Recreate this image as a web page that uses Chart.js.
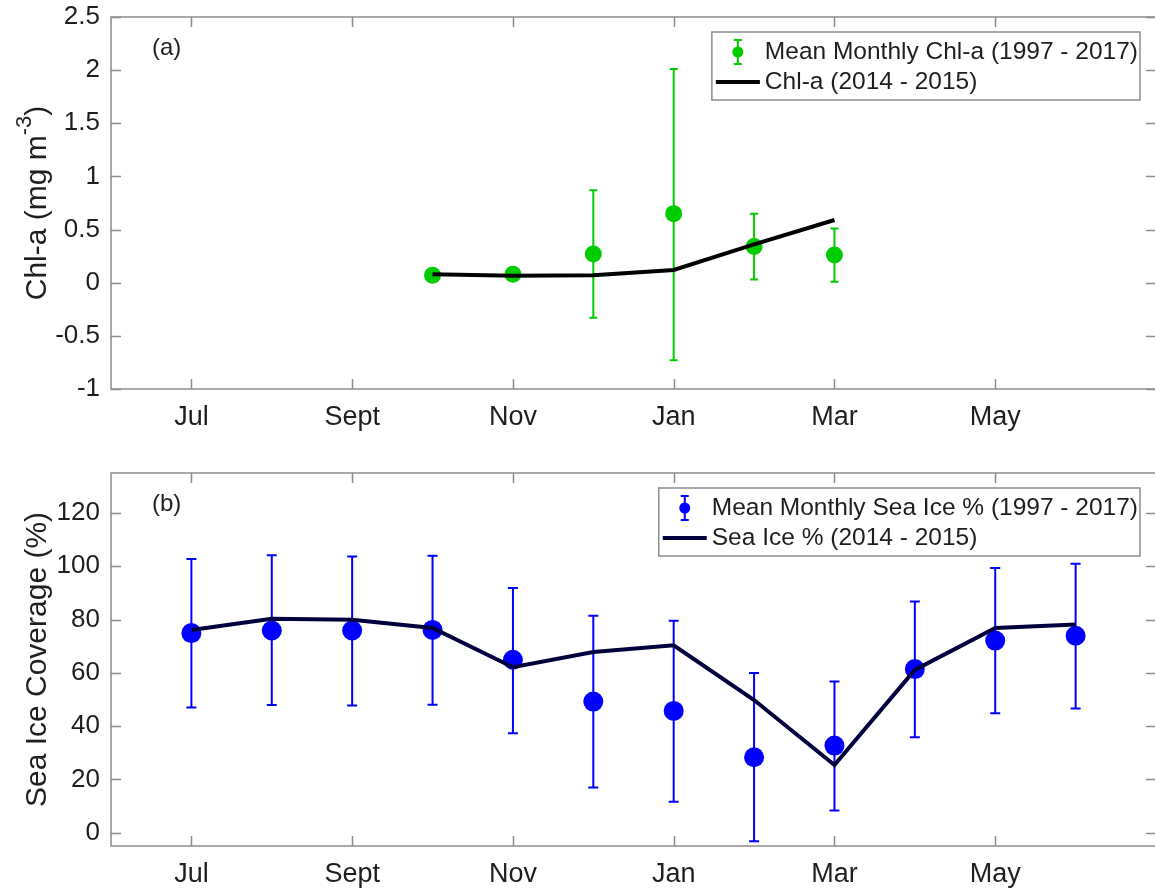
<!DOCTYPE html>
<html>
<head>
<meta charset="utf-8">
<script src="https://cdn.jsdelivr.net/npm/chart.js@4.4.0/dist/chart.umd.min.js"></script>
<style>
  html, body { margin: 0; padding: 0; background: #fff; overflow: hidden; }
  #wrap { position: relative; width: 1155px; height: 890px; overflow: hidden; }
  canvas { position: absolute; left: 0; }
</style>
</head>
<body>
<div id="wrap">
  <canvas id="chlChart" width="1157" height="445" style="top:0px"></canvas>
  <canvas id="iceChart" width="1157" height="445" style="top:445px"></canvas>
</div>
<script>
// months along x (Jun = 0 ... Jul next year = 13)
const months = ['Jul', 'Aug', 'Sep', 'Oct', 'Nov', 'Dec', 'Jan', 'Feb', 'Mar', 'Apr', 'May', 'Jun'];
const monthPos = [1, 2, 3, 4, 5, 6, 7, 8, 9, 10, 11, 12];
const xTickPos = [1, 3, 5, 7, 9, 11];
const xTickLabels = ['Jul', 'Sept', 'Nov', 'Jan', 'Mar', 'May'];

// panel (a) chlorophyll
const chlMean = [null, null, null, 0.07, 0.08, 0.27, 0.65, 0.34, 0.26, null, null, null];
const chlLow  = [null, null, null, 0.05, 0.06, -0.33, -0.73, 0.03, 0.01, null, null, null];
const chlHigh = [null, null, null, 0.09, 0.10, 0.87, 2.01, 0.65, 0.51, null, null, null];
const chl1415 = [null, null, null, 0.08, 0.065, 0.07, 0.12, 0.36, 0.59, null, null, null];
const chlTicks = [-1, -0.5, 0, 0.5, 1, 1.5, 2, 2.5];

// panel (b) sea ice
const iceMean = [74.9, 75.9, 75.9, 76.1, 64.9, 49.2, 45.7, 28.3, 32.7, 61.4, 72.1, 73.9];
const iceLow  = [47.0, 47.9, 47.7, 48.0, 37.3, 17.0, 11.6, -3.2, 8.3, 35.8, 44.8, 46.6];
const iceHigh = [102.7, 104.1, 103.7, 103.9, 91.8, 81.4, 79.5, 59.9, 56.7, 86.8, 99.3, 100.9];
const ice1415 = [76.1, 80.3, 79.9, 76.8, 62.1, 67.8, 70.3, 49.8, 25.4, 61.1, 76.8, 78.1];
const iceTicks = [0, 20, 40, 60, 80, 100, 120];

const FONT = "'Liberation Sans', Arial, Helvetica, sans-serif";
const GREY = '#8c8c8c';
const TXT = '#1e1e1e';

Chart.defaults.font.family = FONT;

function points(vals, lows, highs) {
  const out = [];
  vals.forEach((v, i) => {
    if (v === null) return;
    out.push({ x: monthPos[i], y: v, lo: lows ? lows[i] : v, hi: highs ? highs[i] : v });
  });
  return out;
}

// error bars, drawn under the markers
const errorBars = {
  id: 'errorBars',
  beforeDatasetsDraw(chart) {
    const { ctx, scales: { x, y } } = chart;
    chart.data.datasets.forEach(ds => {
      if (!ds.errColor) return;
      ctx.save();
      ctx.strokeStyle = ds.errColor;
      ctx.lineWidth = 2;
      ds.data.forEach(p => {
        const px = x.getPixelForValue(p.x);
        const lo = y.getPixelForValue(p.lo);
        const hi = y.getPixelForValue(p.hi);
        ctx.beginPath();
        ctx.moveTo(px, lo); ctx.lineTo(px, hi);
        ctx.moveTo(px - ds.capHalf, lo); ctx.lineTo(px + ds.capHalf, lo);
        ctx.moveTo(px - ds.capHalf, hi); ctx.lineTo(px + ds.capHalf, hi);
        ctx.stroke();
      });
      ctx.restore();
    });
  }
};

// matlab-like box, inward ticks, panel letter, y title and legend
const frame = {
  id: 'frame',
  afterDraw(chart, args, o) {
    const { ctx, chartArea: a, scales: { x, y } } = chart;
    ctx.save();
    ctx.strokeStyle = GREY;
    ctx.lineWidth = 1.5;
    ctx.strokeRect(a.left, a.top, a.right - a.left, a.bottom - a.top);
    ctx.beginPath();
    x.ticks.forEach(t => {
      const px = Math.round(x.getPixelForValue(t.value)) + 0.5;
      ctx.moveTo(px, a.bottom); ctx.lineTo(px, a.bottom - 10);
      ctx.moveTo(px, a.top); ctx.lineTo(px, a.top + 10);
    });
    y.ticks.forEach(t => {
      const py = Math.round(y.getPixelForValue(t.value)) + 0.5;
      ctx.moveTo(a.left, py); ctx.lineTo(a.left + 10, py);
      ctx.moveTo(a.right, py); ctx.lineTo(a.right - 10, py);
    });
    ctx.stroke();

    // panel letter
    ctx.fillStyle = TXT;
    ctx.font = '24px ' + FONT;
    ctx.textBaseline = 'middle';
    ctx.textAlign = 'left';
    ctx.fillText(o.panel, a.left + 41, a.top + 31);

    // y title (with optional superscript)
    ctx.save();
    ctx.translate(46, (a.top + a.bottom) / 2);
    ctx.rotate(-Math.PI / 2);
    ctx.textBaseline = 'alphabetic';
    const big = '30px ' + FONT, small = '22px ' + FONT;
    ctx.font = big;
    const w1 = ctx.measureText(o.title[0]).width;
    const w3 = ctx.measureText(o.title[2]).width;
    ctx.font = small;
    const w2 = ctx.measureText(o.title[1]).width;
    let sx = -(w1 + w2 + w3) / 2;
    ctx.font = big; ctx.fillText(o.title[0], sx, 0); sx += w1;
    ctx.font = small; ctx.fillText(o.title[1], sx, -15); sx += w2;
    ctx.font = big; ctx.fillText(o.title[2], sx, 0);
    ctx.restore();

    // legend box
    const dsMean = chart.data.datasets[1], dsLine = chart.data.datasets[0];
    ctx.font = '24.5px ' + FONT;
    const tw = Math.max(ctx.measureText(dsMean.label).width, ctx.measureText(dsLine.label).width);
    const bw = 53 + tw + 2, bh = 68;
    const bx = a.right - 16 - bw, by = a.top + 15;
    ctx.fillStyle = '#fff';
    ctx.fillRect(bx, by, bw, bh);
    ctx.strokeStyle = GREY;
    ctx.lineWidth = 1.5;
    ctx.strokeRect(bx, by, bw, bh);
    const r1 = by + 20, r2 = by + 50, mx = bx + 26;
    ctx.strokeStyle = dsMean.errColor;
    ctx.lineWidth = 2;
    ctx.beginPath();
    ctx.moveTo(mx, r1 - 12); ctx.lineTo(mx, r1 + 12);
    ctx.moveTo(mx - 4, r1 - 12); ctx.lineTo(mx + 4, r1 - 12);
    ctx.moveTo(mx - 4, r1 + 12); ctx.lineTo(mx + 4, r1 + 12);
    ctx.stroke();
    ctx.fillStyle = dsMean.backgroundColor;
    ctx.beginPath(); ctx.arc(mx, r1, 5.5, 0, Math.PI * 2); ctx.fill();
    ctx.strokeStyle = dsLine.borderColor;
    ctx.lineWidth = 4;
    ctx.beginPath(); ctx.moveTo(bx + 4, r2); ctx.lineTo(bx + 48, r2); ctx.stroke();
    ctx.fillStyle = TXT;
    ctx.textBaseline = 'middle';
    ctx.fillText(dsMean.label, bx + 53, r1);
    ctx.fillText(dsLine.label, bx + 53, r2);
    ctx.restore();
  }
};

function noPad(s) {
  s.paddingTop = 0; s.paddingBottom = 0; s.paddingLeft = 0; s.paddingRight = 0;
}

function makeChart(id, cfg) {
  return new Chart(document.getElementById(id), {
    type: 'line',
    data: {
      datasets: [
        {
          label: cfg.lineLabel,
          data: points(cfg.line),
          borderColor: cfg.lineColor,
          borderWidth: 4,
          pointRadius: 0,
          tension: 0,
          fill: false,
          order: 0
        },
        {
          label: cfg.meanLabel,
          data: points(cfg.mean, cfg.low, cfg.high),
          showLine: false,
          backgroundColor: cfg.dotColor,
          pointBackgroundColor: cfg.dotColor,
          pointBorderWidth: 0,
          pointRadius: cfg.dotRadius,
          errColor: cfg.dotColor,
          capHalf: cfg.capHalf,
          order: 1
        }
      ]
    },
    options: {
      responsive: false,
      animation: false,
      layout: { autoPadding: false, padding: { top: cfg.padTop, right: 1, left: 0, bottom: 0 } },
      plugins: {
        legend: { display: false },
        tooltip: { enabled: false },
        frame: { panel: cfg.panel, title: cfg.title }
      },
      scales: {
        x: {
          type: 'linear',
          min: 0,
          max: 13,
          grid: { display: false, drawTicks: false },
          border: { display: false },
          afterBuildTicks: s => { s.ticks = xTickPos.map(v => ({ value: v })); },
          afterFit: s => { s.height = cfg.xHeight; noPad(s); },
          ticks: {
            font: { size: 27 },
            color: TXT,
            padding: 12,
            maxRotation: 0,
            callback: v => xTickLabels[xTickPos.indexOf(v)]
          }
        },
        y: {
          min: cfg.yMin,
          max: cfg.yMax,
          grid: { display: false, drawTicks: false },
          border: { display: false },
          afterBuildTicks: s => { s.ticks = cfg.yTicks.map(v => ({ value: v })); },
          afterFit: s => { s.width = 111; noPad(s); },
          ticks: {
            font: { size: 26 },
            color: TXT,
            padding: 11,
            callback: v => String(v)
          }
        }
      }
    },
    plugins: [errorBars, frame]
  });
}

makeChart('chlChart', {
  mean: chlMean, low: chlLow, high: chlHigh, line: chl1415,
  meanLabel: 'Mean Monthly Chl-a (1997 - 2017)',
  lineLabel: 'Chl-a (2014 - 2015)',
  dotColor: '#00cc00', lineColor: '#000000', dotRadius: 8.5, capHalf: 4,
  yMin: -1, yMax: 2.5, yTicks: chlTicks,
  padTop: 17, xHeight: 56,
  panel: '(a)', title: ['Chl-a (mg m', '-3', ')']
});

makeChart('iceChart', {
  mean: iceMean, low: iceLow, high: iceHigh, line: ice1415,
  meanLabel: 'Mean Monthly Sea Ice % (1997 - 2017)',
  lineLabel: 'Sea Ice % (2014 - 2015)',
  dotColor: '#0000ff', lineColor: '#00003c', dotRadius: 10, capHalf: 5,
  yMin: -5, yMax: 135, yTicks: iceTicks,
  padTop: 28, xHeight: 44,
  panel: '(b)', title: ['Sea Ice Coverage (%)', '', '']
});
</script>
</body>
</html>
